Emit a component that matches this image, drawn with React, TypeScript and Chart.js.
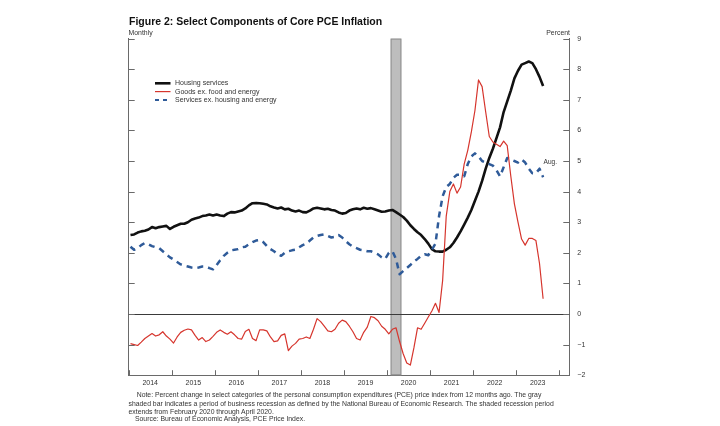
import React, { useEffect, useRef } from 'react';
import { Chart, registerables } from 'chart.js';

Chart.register(...registerables);

// ---------- data (monthly, Jan 2014 .. Aug 2023, percent change from 12 months ago) ----------
const YEAR_LABELS = ['2014', '2015', '2016', '2017', '2018', '2019', '2020', '2021', '2022', '2023'];
const Y_TICKS = [-2, -1, 0, 1, 2, 3, 4, 5, 6, 7, 8, 9];

const HOUSING_SERVICES = [
  2.58, 2.60, 2.66, 2.70, 2.72, 2.76, 2.84, 2.80, 2.84, 2.86, 2.88, 2.78,
  2.85, 2.90, 2.95, 2.95, 3.00, 3.08, 3.12, 3.15, 3.20, 3.22, 3.25, 3.22,
  3.25, 3.22, 3.20, 3.28, 3.33, 3.32, 3.35, 3.38, 3.45, 3.55, 3.62, 3.63,
  3.62, 3.60, 3.58, 3.52, 3.48, 3.45, 3.48, 3.42, 3.44, 3.38, 3.35, 3.38,
  3.33, 3.32, 3.38, 3.45, 3.47, 3.45, 3.42, 3.44, 3.40, 3.38, 3.32, 3.28,
  3.30, 3.38, 3.42, 3.45, 3.42, 3.47, 3.44, 3.46, 3.42, 3.38, 3.34, 3.35,
  3.38, 3.40, 3.33, 3.25, 3.17, 3.05, 2.90, 2.78, 2.67, 2.58, 2.45, 2.30,
  2.12, 2.05, 2.04, 2.04, 2.10, 2.18, 2.32, 2.50, 2.70, 2.92, 3.15, 3.40,
  3.70, 4.00, 4.35, 4.75, 5.10, 5.40, 5.75, 6.10, 6.60, 6.95, 7.30, 7.70,
  7.95, 8.15, 8.20, 8.25, 8.20, 8.00, 7.75, 7.45,
];

const GOODS_EX_FOOD_ENERGY = [
  -0.97, -1.00, -1.03, -0.92, -0.80, -0.72, -0.64, -0.72, -0.68, -0.58, -0.72, -0.82,
  -0.95, -0.75, -0.60, -0.53, -0.49, -0.52, -0.70, -0.85, -0.77, -0.90, -0.85, -0.73,
  -0.60, -0.52, -0.60, -0.66, -0.58, -0.68, -0.80, -0.82, -0.57, -0.50, -0.80, -0.87,
  -0.52, -0.52, -0.55, -0.75, -0.90, -0.88, -0.70, -0.65, -1.20, -1.05, -0.96, -0.82,
  -0.80, -0.75, -0.80, -0.50, -0.15, -0.25, -0.40, -0.55, -0.58, -0.50, -0.30, -0.20,
  -0.25, -0.40, -0.58, -0.80, -0.85, -0.60, -0.43, -0.08, -0.12, -0.22, -0.40, -0.50,
  -0.65, -0.50, -0.45, -0.90, -1.30, -1.60, -1.67, -1.10, -0.45, -0.50, -0.30, -0.10,
  0.10, 0.35, 0.05, 1.10, 3.20, 4.00, 4.25, 3.95, 4.15, 4.90, 5.35, 5.95,
  6.65, 7.65, 7.43, 6.60, 5.80, 5.62, 5.55, 5.47, 5.65, 5.50, 4.50, 3.60,
  3.00, 2.45, 2.25, 2.47, 2.47, 2.40, 1.65, 0.50,
];

const SERVICES_EX_HOUSING_ENERGY = [
  2.20, 2.10, 2.15, 2.25, 2.32, 2.28, 2.22, 2.18, 2.15, 2.05, 1.95, 1.85,
  1.78, 1.70, 1.62, 1.58, 1.55, 1.52, 1.50, 1.52, 1.55, 1.55, 1.50, 1.46,
  1.60, 1.76, 1.90, 2.00, 2.08, 2.10, 2.12, 2.18, 2.20, 2.28, 2.35, 2.40,
  2.42, 2.35, 2.22, 2.12, 2.05, 1.95, 1.90, 2.00, 2.05, 2.08, 2.10, 2.18,
  2.25, 2.30, 2.40, 2.50, 2.55, 2.58, 2.60, 2.55, 2.50, 2.52, 2.58, 2.50,
  2.38, 2.28, 2.20, 2.15, 2.10, 2.08, 2.05, 2.05, 2.00, 1.95, 1.85, 1.80,
  2.00, 2.05, 1.80, 1.30, 1.40, 1.50, 1.60, 1.72, 1.80, 1.90, 1.95, 1.92,
  2.10, 2.30, 3.20, 3.85, 4.15, 4.25, 4.45, 4.55, 4.55, 4.50, 4.90, 5.15,
  5.25, 5.15, 5.00, 4.95, 4.90, 4.85, 4.70, 4.50, 4.80, 5.10, 5.05, 5.00,
  4.95, 5.05, 4.95, 4.75, 4.60, 4.60, 4.75, 4.47,
];

const SERIES_NAMES = ['Housing services', 'Goods ex. food and energy', 'Services ex. housing and energy'];
const RECESSION_START = 73; // months since Jan 2014 (Feb 2020)
const RECESSION_END = 76;   // end of Apr 2020
const X_MAX = 122.8;        // axis runs to about Mar 2024

// ---------- layout / style ----------
const W = 720;
const H = 426;
const PLOT_L = 128.7;
const PLOT_R = 569.3;
const PLOT_T = 38.6;
const PLOT_B = 375.2;
const RIGHT_AXIS_W = 20;
const BOTTOM_AXIS_H = 18;
const FONT = '"Liberation Sans", Arial, Helvetica, sans-serif';
const AXIS_COLOR = '#6a6a6a';
const BLACK = '#111111';
const RED = '#d6352d';
const BLUE = '#2f5b99';

const toPoints = (arr: number[]) => arr.map((v, i) => ({ x: i + 0.5, y: v }));

const decorPlugin = {
  id: 'decor',
  beforeDatasetsDraw(chart: any) {
    const { ctx, chartArea, scales } = chart;
    const xs = scales.x;
    const ys = scales.y;
    const x0 = xs.getPixelForValue(RECESSION_START);
    const x1 = xs.getPixelForValue(RECESSION_END);
    ctx.save();
    ctx.fillStyle = '#bdbdbd';
    ctx.fillRect(x0, chartArea.top, x1 - x0, chartArea.bottom - chartArea.top);
    ctx.strokeStyle = '#8e8e8e';
    ctx.lineWidth = 1;
    ctx.strokeRect(x0 + 0.5, chartArea.top + 0.5, x1 - x0 - 1, chartArea.bottom - chartArea.top - 1);
    const y0 = Math.round(ys.getPixelForValue(0)) + 0.5;
    ctx.strokeStyle = '#3a3a3a';
    ctx.beginPath();
    ctx.moveTo(chartArea.left, y0);
    ctx.lineTo(chartArea.right, y0);
    ctx.stroke();
    ctx.restore();
  },
  afterDraw(chart: any) {
    const { ctx, chartArea, scales } = chart;
    const xs = scales.x;
    const ys = scales.y;
    ctx.save();
    ctx.strokeStyle = AXIS_COLOR;
    ctx.lineWidth = 1;
    ctx.beginPath();
    for (let m = 0; m <= YEAR_LABELS.length * 12; m += 12) {
      const px = Math.round(xs.getPixelForValue(m)) + 0.5;
      ctx.moveTo(px, chartArea.bottom);
      ctx.lineTo(px, chartArea.bottom - 5);
    }
    for (const v of Y_TICKS) {
      const py = Math.round(ys.getPixelForValue(v)) + 0.5;
      ctx.moveTo(chartArea.left, py);
      ctx.lineTo(chartArea.left + 6, py);
      ctx.moveTo(chartArea.right, py);
      ctx.lineTo(chartArea.right - 6, py);
    }
    ctx.stroke();
    ctx.restore();
  },
};

export default function App() {
  const canvasRef = useRef<HTMLCanvasElement | null>(null);

  useEffect(() => {
    const canvas = canvasRef.current;
    if (!canvas) return;
    const chart = new Chart(canvas, {
      type: 'line',
      data: {
        datasets: [
          {
            label: SERIES_NAMES[1],
            data: toPoints(GOODS_EX_FOOD_ENERGY),
            borderColor: RED,
            borderWidth: 1.2,
            pointRadius: 0,
            yAxisID: 'y',
          },
          {
            label: SERIES_NAMES[2],
            data: toPoints(SERVICES_EX_HOUSING_ENERGY),
            borderColor: BLUE,
            borderWidth: 2.5,
            borderDash: [6, 5],
            pointRadius: 0,
            yAxisID: 'y',
          },
          {
            label: SERIES_NAMES[0],
            data: toPoints(HOUSING_SERVICES),
            borderColor: BLACK,
            borderWidth: 2.6,
            pointRadius: 0,
            yAxisID: 'y',
          },
        ],
      },
      options: {
        animation: false,
        responsive: false,
        maintainAspectRatio: false,
        events: [],
        layout: {
          padding: {
            left: PLOT_L,
            right: W - PLOT_R - RIGHT_AXIS_W,
            top: PLOT_T,
            bottom: H - PLOT_B - BOTTOM_AXIS_H,
          },
        },
        plugins: { legend: { display: false }, tooltip: { enabled: false } },
        elements: { line: { tension: 0, borderCapStyle: 'butt', borderJoinStyle: 'round' } },
        scales: {
          x: {
            type: 'linear',
            position: 'bottom',
            min: 0,
            max: X_MAX,
            grid: { display: false, drawTicks: false },
            border: { display: true, color: AXIS_COLOR, width: 1 },
            afterBuildTicks: (scale: any) => {
              scale.ticks = YEAR_LABELS.map((_, i) => ({ value: i * 12 + 6 }));
            },
            afterFit: (scale: any) => {
              scale.height = BOTTOM_AXIS_H;
            },
            ticks: {
              autoSkip: false,
              maxRotation: 0,
              minRotation: 0,
              padding: 4,
              color: '#333',
              font: { family: FONT, size: 7 },
              callback: (_v: any, i: number) => YEAR_LABELS[i],
            },
          },
          yLeft: {
            type: 'linear',
            position: 'left',
            min: -2,
            max: 9,
            ticks: { display: false, stepSize: 1 },
            grid: { display: false, drawTicks: false },
            border: { display: true, color: AXIS_COLOR, width: 1 },
            afterFit: (scale: any) => {
              scale.width = 0;
            },
          },
          y: {
            type: 'linear',
            position: 'right',
            min: -2,
            max: 9,
            afterBuildTicks: (scale: any) => {
              scale.ticks = Y_TICKS.map((v) => ({ value: v }));
            },
            ticks: {
              padding: 8,
              crossAlign: 'near',
              color: '#333',
              font: { family: FONT, size: 7 },
              callback: (v: any) => (v < 0 ? '\u2212' + Math.abs(v) : String(v)),
            },
            grid: { display: false, drawTicks: false },
            border: { display: true, color: AXIS_COLOR, width: 1 },
            afterFit: (scale: any) => {
              scale.width = RIGHT_AXIS_W;
            },
          },
        },
      } as any,
      plugins: [decorPlugin],
    });
    return () => chart.destroy();
  }, []);

  const textBase: React.CSSProperties = {
    position: 'absolute',
    fontFamily: FONT,
    color: '#222',
    whiteSpace: 'pre',
  };

  const legendTop = [79.3, 87.6, 95.9];
  const legendLineY = [83.3, 91.6, 99.9];
  const noteSize = 6.85;

  return (
    <div style={{ position: 'absolute', left: 0, top: 0, width: W, height: H, background: '#fff', overflow: 'hidden' }}>
      <canvas ref={canvasRef} width={W} height={H} style={{ position: 'absolute', left: 0, top: 0, width: W, height: H }} />
      <div style={{ ...textBase, left: 129, top: 15.4, fontSize: 10.5, lineHeight: '12px', fontWeight: 700, color: '#111' }}>
        Figure 2: Select Components of Core PCE Inflation
      </div>
      <div style={{ ...textBase, left: 128.5, top: 29, fontSize: 6.9, lineHeight: '8px', color: '#333' }}>Monthly</div>
      <div style={{ ...textBase, right: W - 570, top: 29, fontSize: 6.9, lineHeight: '8px', color: '#333' }}>Percent</div>

      <svg width={W} height={H} style={{ position: 'absolute', left: 0, top: 0, pointerEvents: 'none' }}>
        <line x1={155} x2={170.5} y1={legendLineY[0]} y2={legendLineY[0]} stroke={BLACK} strokeWidth={2.6} />
        <line x1={155} x2={170.5} y1={legendLineY[1]} y2={legendLineY[1]} stroke={RED} strokeWidth={1.2} />
        <line x1={155} x2={170.5} y1={legendLineY[2]} y2={legendLineY[2]} stroke={BLUE} strokeWidth={2} strokeDasharray="4 4" />
      </svg>
      {SERIES_NAMES.map((name, i) => (
        <div key={name} style={{ ...textBase, left: 175, top: legendTop[i], fontSize: 7, lineHeight: '8px', color: '#333' }}>
          {name}
        </div>
      ))}
      <div style={{ ...textBase, left: 543.5, top: 157.5, fontSize: 6.6, lineHeight: '8px', color: '#333' }}>Aug.</div>

      <div style={{ ...textBase, left: 136.7, top: 391.3, fontSize: noteSize, lineHeight: '8px', color: '#333' }}>
        Note: Percent change in select categories of the personal consumption expenditures (PCE) price index from 12 months ago. The gray
      </div>
      <div style={{ ...textBase, left: 128.5, top: 399.6, fontSize: noteSize, lineHeight: '8px', color: '#333' }}>
        shaded bar indicates a period of business recession as defined by the National Bureau of Economic Research. The shaded recession period
      </div>
      <div style={{ ...textBase, left: 128.5, top: 407.6, fontSize: noteSize, lineHeight: '8px', color: '#333' }}>
        extends from February 2020 through April 2020.
      </div>
      <div style={{ ...textBase, left: 135, top: 415.2, fontSize: noteSize, lineHeight: '8px', color: '#333' }}>
        Source: Bureau of Economic Analysis, PCE Price Index.
      </div>
    </div>
  );
}
